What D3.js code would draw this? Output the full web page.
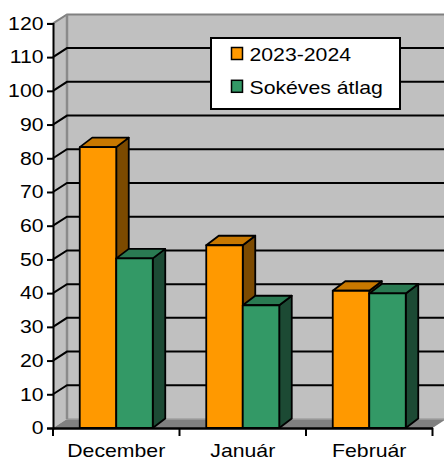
<!DOCTYPE html>
<html>
<head>
<meta charset="utf-8">
<script src="https://cdn.jsdelivr.net/npm/d3@7"></script>
<style>
  html, body { margin: 0; padding: 0; background: #fff; }
  svg { display: block; font-family: "Liberation Sans", Arial, sans-serif; }
</style>
</head>
<body>
<svg id="chart" width="444" height="461"></svg>
<script>
// Monthly values: current season vs. long-term average
const months = ["December", "Január", "Február"];
const season = [83.3, 54.2, 40.7];
const average = [50.3, 36.4, 39.9];
const seriesNames = ["2023-2024", "Sokéves átlag"];
const yTicks = [0, 10, 20, 30, 40, 50, 60, 70, 80, 90, 100, 110, 120];

(function draw() {
  const svg = d3.select("#chart");

  // plot frame (front plane) and the 3D depth offset
  const plotLeft = 53, plotRight = 432.5, plotBottom = 428, plotTop = 23.4;
  const wallDx = 14, wallDy = -9;      // depth of the walls
  const barDx = 12.5, barDy = -9.5;    // depth of each column
  const fontSize = 18, stretch = 1.18; // wide, Arial-like lettering

  const y = d3.scaleLinear().domain([0, 120]).range([plotBottom, plotTop]);
  const x = d3.scaleBand().domain(months).range([plotLeft, plotRight]).paddingInner(0).paddingOuter(0);
  const sub = d3.scaleBand().domain([0, 1]).range([0, 73]);

  const series = [
    { name: seriesNames[0], values: season, front: "#ff9900", topC: "#c87800", side: "#7c4a00" },
    { name: seriesNames[1], values: average, front: "#339966", topC: "#2a7a52", side: "#1c4a34" }
  ];

  // side wall (left)
  svg.append("path")
    .attr("d", `M${plotLeft},${plotBottom} L${plotLeft + wallDx},${plotBottom + wallDy} L${plotLeft + wallDx},${plotTop + wallDy} L${plotLeft},${plotTop} Z`)
    .attr("fill", "#c0c0c0");

  // back wall
  svg.append("rect")
    .attr("x", plotLeft + wallDx).attr("y", plotTop + wallDy)
    .attr("width", 460 - plotLeft - wallDx).attr("height", plotBottom - plotTop)
    .attr("fill", "#c0c0c0");

  // floor
  svg.append("path")
    .attr("d", `M${plotLeft},${plotBottom} L${plotLeft + wallDx},${plotBottom + wallDy} L${plotRight + wallDx},${plotBottom + wallDy} L${plotRight},${plotBottom} Z`)
    .attr("fill", "#808080");
  svg.append("line")
    .attr("x1", plotLeft + wallDx).attr("x2", 460)
    .attr("y1", plotBottom + wallDy).attr("y2", plotBottom + wallDy)
    .attr("stroke", "#a0a0a0").attr("stroke-width", 1.5);

  // wall edges
  svg.append("path")
    .attr("d", `M${plotLeft},${plotTop} L${plotLeft + wallDx},${plotTop + wallDy} L460,${plotTop + wallDy}`)
    .attr("fill", "none").attr("stroke", "#808080").attr("stroke-width", 2);
  svg.append("line")
    .attr("x1", plotLeft + wallDx).attr("x2", plotLeft + wallDx)
    .attr("y1", plotTop + wallDy).attr("y2", plotBottom + wallDy)
    .attr("stroke", "#8a8a8a").attr("stroke-width", 2.5);

  // gridlines: diagonal on the side wall, horizontal on the back wall
  const grid = svg.append("g");
  yTicks.filter(t => t > 0 && t < 120).forEach(t => {
    grid.append("path")
      .attr("d", `M${plotLeft},${y(t)} L${plotLeft + wallDx},${y(t) + wallDy} L460,${y(t) + wallDy}`)
      .attr("fill", "none").attr("stroke", "#000").attr("stroke-width", 2);
  });

  // 3D columns
  months.forEach((m, i) => {
    series.forEach((s, k) => {
      const x0 = x(m) + (x.bandwidth() - 73) / 2 + sub(k);
      const x1 = x0 + sub.bandwidth();
      const yt = y(s.values[i]);
      const g = svg.append("g").attr("stroke", "#000").attr("stroke-width", 1.8).attr("stroke-linejoin", "round");
      g.append("path")
        .attr("d", `M${x1},${plotBottom} L${x1 + barDx},${plotBottom + barDy} L${x1 + barDx},${yt + barDy} L${x1},${yt} Z`)
        .attr("fill", s.side);
      g.append("path")
        .attr("d", `M${x0},${yt} L${x0 + barDx},${yt + barDy} L${x1 + barDx},${yt + barDy} L${x1},${yt} Z`)
        .attr("fill", s.topC);
      g.append("rect")
        .attr("x", x0).attr("y", yt).attr("width", x1 - x0).attr("height", plotBottom - yt)
        .attr("fill", s.front);
    });
  });

  // value axis
  const yAxis = svg.append("g")
    .attr("transform", `translate(${plotLeft},0)`)
    .call(d3.axisLeft(y).tickValues(yTicks).tickSize(6));
  yAxis.select(".domain").attr("stroke", "#000").attr("stroke-width", 2);
  yAxis.selectAll(".tick line").attr("stroke", "#000").attr("stroke-width", 2);
  yAxis.selectAll("text")
    .attr("font-size", fontSize).attr("fill", "#000")
    .attr("font-family", "Liberation Sans, Arial, sans-serif")
    .attr("x", -9.5 / stretch)
    .attr("transform", `scale(${stretch},1)`);

  // category axis
  const xAxis = svg.append("g")
    .attr("transform", `translate(0,${plotBottom})`)
    .call(d3.axisBottom(x).tickSize(0).tickPadding(16));
  xAxis.select(".domain").attr("stroke", "#000").attr("stroke-width", 2.5);
  xAxis.selectAll("text")
    .attr("font-size", fontSize).attr("fill", "#000")
    .attr("font-family", "Liberation Sans, Arial, sans-serif")
    .attr("transform", `scale(${stretch},1)`);
  // tick marks between categories
  const bounds = months.map(m => x(m)).concat([plotRight]);
  xAxis.selectAll(".bound").data(bounds).enter().append("line")
    .attr("x1", d => d).attr("x2", d => d).attr("y1", 0).attr("y2", 8)
    .attr("stroke", "#000").attr("stroke-width", 2);

  // legend
  const lg = svg.append("g").attr("transform", "translate(211,38)");
  lg.append("rect").attr("width", 189).attr("height", 71)
    .attr("fill", "#fff").attr("stroke", "#000").attr("stroke-width", 2);
  series.forEach((s, k) => {
    const row = lg.append("g").attr("transform", `translate(0,${9.5 + k * 32.8})`);
    row.append("rect").attr("x", 20.5).attr("y", 0).attr("width", 11).attr("height", 12)
      .attr("fill", s.front).attr("stroke", "#000").attr("stroke-width", 1.5);
    row.append("text").attr("x", 38.5 / stretch).attr("y", 13.5)
      .attr("transform", `scale(${stretch},1)`)
      .attr("font-size", fontSize).attr("fill", "#000").text(s.name);
  });
})();
</script>
</body>
</html>
